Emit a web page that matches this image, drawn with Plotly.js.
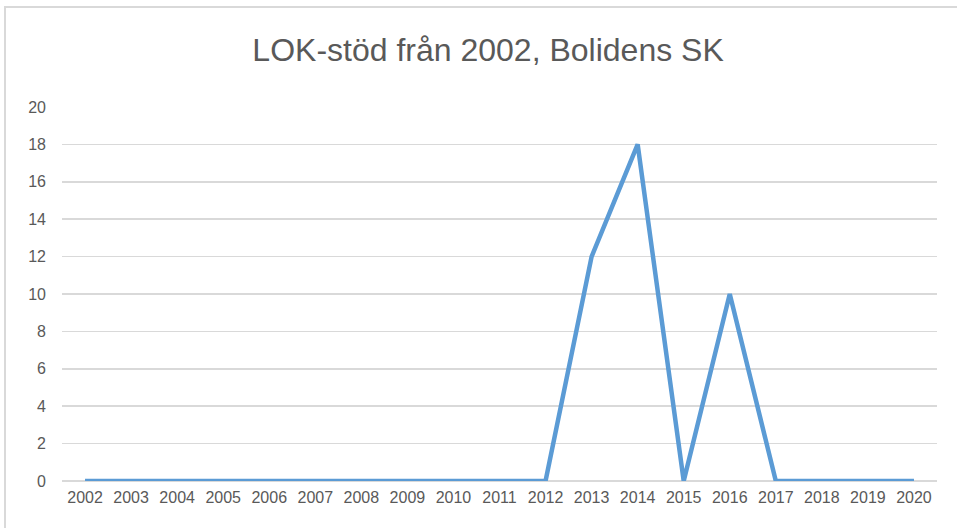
<!DOCTYPE html>
<html><head><meta charset="utf-8">
<script src="https://cdn.plot.ly/plotly-3.0.1.min.js"></script>
<style>
html,body{margin:0;padding:0;background:#fff;}
#chart{width:957px;height:528px;}
#frame{position:absolute;left:4px;top:6px;width:960px;height:530px;border-left:2px solid #d9d9d9;border-top:2px solid #d9d9d9;pointer-events:none;}
</style></head>
<body>
<div id="chart"></div>
<div id="frame"></div>
<script>
const years = ['2002','2003','2004','2005','2006','2007','2008','2009','2010','2011','2012','2013','2014','2015','2016','2017','2018','2019','2020'];
const values = [0,0,0,0,0,0,0,0,0,0,0,12,18,0,10,0,0,0,0];
const yTicks = [0,2,4,6,8,10,12,14,16,18,20];

Plotly.newPlot('chart', [{
  x: years, y: values, type: 'scatter', mode: 'lines',
  line: {color: '#5B9BD5', width: 4.5, shape: 'linear'},
  hoverinfo: 'x+y'
}], {
  width: 957, height: 528,
  margin: {l: 62, r: 20, t: 107, b: 47},
  paper_bgcolor: '#fff', plot_bgcolor: '#fff',
  showlegend: false,
  title: {text: 'LOK-stöd från 2002, Bolidens SK', x: 0.51, xanchor: 'center', y: 0.905, yanchor: 'middle',
          font: {family: 'Liberation Sans, Arial, sans-serif', size: 32, color: '#595959'}},
  xaxis: {type: 'category', range: [-0.5, 18.5], showgrid: false, zeroline: false, showline: false,
          ticks: '', ticklen: 0, ticklabelstandoff: 5,
          tickfont: {family: 'Liberation Sans, sans-serif', size: 16, color: '#595959'}},
  yaxis: {range: [0, 20], tickvals: yTicks, ticktext: yTicks.map(String), showgrid: true, gridcolor: '#d9d9d9', gridwidth: 1.5,
          zeroline: true, zerolinecolor: '#d9d9d9', zerolinewidth: 1.5, showline: false, ticks: '', ticklen: 0,
          ticklabelstandoff: 15,
          tickfont: {family: 'Liberation Sans, sans-serif', size: 16, color: '#595959'}}
}, {displayModeBar: false, staticPlot: true});
</script>
</body></html>
